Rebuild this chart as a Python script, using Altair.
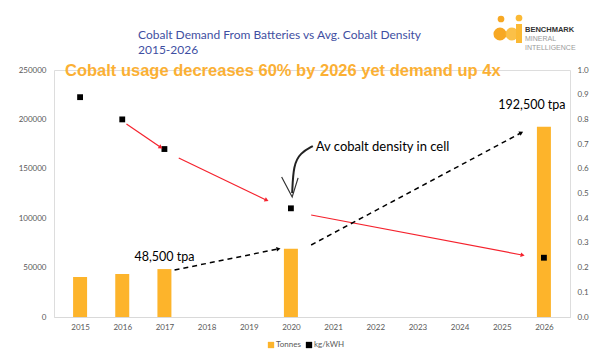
import math
import altair as alt
import pandas as pd

# ---------------- data ----------------
years = [2015, 2016, 2017, 2020, 2026]
tonnes = [40500, 43500, 48500, 69000, 192500]
kg_per_kwh = [0.89, 0.80, 0.68, 0.44, 0.24]

axis_years = list(range(2015, 2027))
left_ticks = [0, 50000, 100000, 150000, 200000, 250000]
right_ticks = [0, 0.1, 0.2, 0.3, 0.4, 0.5, 0.6, 0.7, 0.8, 0.9, 1]

tpa_labels = ["48,500 tpa", "192,500 tpa"]
tpa_years = [2017, 2026]
tpa_values = [48500, 192500]

# red arrows (kg/kWh scale)
red_x1 = [2016.1, 2017.34, 2020.48]
red_y1 = [0.781, 0.644, 0.413]
red_x2 = [2016.9, 2019.41, 2025.48]
red_y2 = [0.688, 0.474, 0.251]

# dashed arrows (tonnes scale)
dash_x1 = [2017.24, 2020.48]
dash_y1 = [47600, 72900]
dash_x2 = [2019.69, 2025.45]
dash_y2 = [68800, 186200]

# hand-drawn curved arrow (kg/kWh scale)
curve_x = [2020.52, 2020.22, 2020.06, 2020.03]
curve_y = [0.692, 0.664, 0.615, 0.502]
head_x = [2019.78, 2020.03, 2020.17]
head_y = [0.567, 0.486, 0.563]

note_text = "Av cobalt density in cell"
note_x = 2020.59
note_y = 0.688

title_lines = ["Cobalt Demand From Batteries vs Avg. Cobalt Density", "2015-2026"]
headline = "Cobalt usage decreases 60% by 2026 yet demand up 4x"
legend_labels = ["Tonnes", "kg/kWH"]

# ---------------- layout / style ----------------
W, H = 516, 247
X_DOMAIN = [2014.5, 2026.5]
T_MAX = 250000
K_MAX = 1
ORANGE = "#FDB42B"
HEAD_ORANGE = "#FBB034"
BLUE = "#3F4FA2"
GREY = "#595959"
RED = "#F5222D"

px_per_year = W / (X_DOMAIN[1] - X_DOMAIN[0])


def arrow_angle(x1, y1, x2, y2, ymax):
    dx = (x2 - x1) * px_per_year
    dy = -(y2 - y1) * H / ymax
    return math.degrees(math.atan2(dx, -dy)) % 360


xs = alt.Scale(domain=X_DOMAIN, nice=False, zero=False)
ys_t = alt.Scale(domain=[0, T_MAX], nice=False)
ys_k = alt.Scale(domain=[0, K_MAX], nice=False)

main = pd.DataFrame({"year": years, "tonnes": tonnes, "kg": kg_per_kwh})

bars = alt.Chart(main).mark_bar(size=14, color=ORANGE).encode(
    x=alt.X("year:Q", scale=xs,
            axis=alt.Axis(values=axis_years, format="d", grid=False, ticks=False,
                          domainColor="#D9D9D9", labelColor=GREY, labelFontSize=8,
                          labelPadding=6, title=None, labelFont="Lato")),
    y=alt.Y("tonnes:Q", scale=ys_t,
            axis=alt.Axis(orient="left", values=left_ticks, format="d", grid=False,
                          ticks=False, domain=False, labelColor=GREY, labelFontSize=8,
                          labelPadding=8, title=None, labelFont="Lato")),
)

points = alt.Chart(main).mark_square(size=34, color="black", opacity=1).encode(
    x=alt.X("year:Q", scale=xs),
    y=alt.Y("kg:Q", scale=ys_k,
            axis=alt.Axis(orient="right", values=right_ticks, grid=False, ticks=False,
                          domain=False, labelColor=GREY, labelFontSize=8,
                          labelPadding=7, title=None, labelFont="Lato")),
)

red_df = pd.DataFrame({"x1": red_x1, "y1": red_y1, "x2": red_x2, "y2": red_y2})
red_df["angle"] = [arrow_angle(a, b, c, d, K_MAX) for a, b, c, d in
                   zip(red_x1, red_y1, red_x2, red_y2)]
red_lines = alt.Chart(red_df).mark_rule(color=RED, strokeWidth=1.2).encode(
    x=alt.X("x1:Q", scale=xs), x2="x2:Q",
    y=alt.Y("y1:Q", scale=ys_k, axis=None), y2="y2:Q",
)
red_heads = alt.Chart(red_df).mark_point(shape="triangle", filled=True, size=22,
                                         color=RED, opacity=1).encode(
    x=alt.X("x2:Q", scale=xs),
    y=alt.Y("y2:Q", scale=ys_k, axis=None),
    angle=alt.Angle("angle:Q", scale=None),
)

dash_df = pd.DataFrame({"x1": dash_x1, "y1": dash_y1, "x2": dash_x2, "y2": dash_y2})
dash_df["angle"] = [arrow_angle(a, b, c, d, T_MAX) for a, b, c, d in
                    zip(dash_x1, dash_y1, dash_x2, dash_y2)]
dash_lines = alt.Chart(dash_df).mark_rule(color="black", strokeWidth=1.5,
                                          strokeDash=[5, 4]).encode(
    x=alt.X("x1:Q", scale=xs), x2="x2:Q",
    y=alt.Y("y1:Q", scale=ys_t, axis=None), y2="y2:Q",
)
dash_heads = alt.Chart(dash_df).mark_point(shape="triangle", filled=True, size=22,
                                           color="black", opacity=1).encode(
    x=alt.X("x2:Q", scale=xs),
    y=alt.Y("y2:Q", scale=ys_t, axis=None),
    angle=alt.Angle("angle:Q", scale=None),
)

curve_df = pd.DataFrame({"x": curve_x, "y": curve_y, "o": range(len(curve_x))})
curve = alt.Chart(curve_df).mark_line(color="#222222", strokeWidth=2,
                                      interpolate="basis").encode(
    x=alt.X("x:Q", scale=xs), y=alt.Y("y:Q", scale=ys_k, axis=None), order="o:Q",
)
head_df = pd.DataFrame({"x": head_x, "y": head_y, "o": range(len(head_x))})
head = alt.Chart(head_df).mark_line(color="#333333", strokeWidth=1.2).encode(
    x=alt.X("x:Q", scale=xs), y=alt.Y("y:Q", scale=ys_k, axis=None), order="o:Q",
)

note = alt.Chart(pd.DataFrame({"x": [note_x], "y": [note_y], "t": [note_text]})).mark_text(
    align="left", baseline="middle", fontSize=13, font="Lato", color="black",
).encode(x=alt.X("x:Q", scale=xs), y=alt.Y("y:Q", scale=ys_k, axis=None), text="t:N")

tpa_df = pd.DataFrame({"x": tpa_years, "y": tpa_values, "t": tpa_labels})
tpa1 = alt.Chart(tpa_df.iloc[[0]]).mark_text(
    align="center", baseline="middle", fontSize=12.5, font="Lato", color="black", dy=-12,
).encode(x=alt.X("x:Q", scale=xs), y=alt.Y("y:Q", scale=ys_t, axis=None), text="t:N")
tpa2 = alt.Chart(tpa_df.iloc[[1]]).mark_text(
    align="center", baseline="middle", fontSize=12.5, font="Lato", color="black", dx=-12, dy=-22,
).encode(x=alt.X("x:Q", scale=xs), y=alt.Y("y:Q", scale=ys_t, axis=None), text="t:N")

one = pd.DataFrame({"k": [0]})


def label(text, x, y, **kw):
    return alt.Chart(one).mark_text(text=text, **kw).encode(x=alt.value(x), y=alt.value(y))


title1 = label(title_lines[0], 84, -35, align="left", baseline="middle", fontSize=12,
               font="Lato", color=BLUE)
title2 = label(title_lines[1], 84, -20, align="left", baseline="middle", fontSize=12,
               font="Lato", color=BLUE)
head_txt = label(headline, 11, 1, align="left", baseline="middle", fontSize=16.5,
                 font="Liberation Sans", fontWeight="bold", color=HEAD_ORANGE)

logo1 = label("BENCHMARK", 471, -40, align="left", baseline="middle", fontSize=7.5,
              font="Liberation Sans", fontWeight="bold", color="#333333")
logo2 = label("MINERAL", 471, -31, align="left", baseline="middle", fontSize=7,
              font="Liberation Sans", color="#9A9A9A")
logo3 = label("INTELLIGENCE", 471, -22, align="left", baseline="middle", fontSize=7,
              font="Liberation Sans", color="#9A9A9A")
logo_a = alt.Chart(one).mark_point(shape="circle", filled=True, size=170, color="#F7A823",
                                   opacity=1).encode(x=alt.value(446), y=alt.value(-36))
logo_b = alt.Chart(one).mark_point(shape="circle", filled=True, size=170, color="#FBB934",
                                   opacity=0.9).encode(x=alt.value(458), y=alt.value(-36))
logo_c = alt.Chart(one).mark_point(shape="circle", filled=True, size=45, color="#F7A823",
                                   opacity=1).encode(x=alt.value(447), y=alt.value(-51))
logo_d = alt.Chart(one).mark_point(shape="circle", filled=True, size=45, color="#FBB934",
                                   opacity=1).encode(x=alt.value(465), y=alt.value(-52))
logo_e = alt.Chart(one).mark_rect(color="#FBB934").encode(
    x=alt.value(462), x2=alt.value(468), y=alt.value(-46), y2=alt.value(-27))

leg_sq1 = alt.Chart(one).mark_square(size=40, color=ORANGE, opacity=1).encode(
    x=alt.value(217), y=alt.value(275))
leg_t1 = label(legend_labels[0], 222, 275, align="left", baseline="middle", fontSize=8,
               font="Lato", color=GREY)
leg_sq2 = alt.Chart(one).mark_square(size=40, color="black", opacity=1).encode(
    x=alt.value(255), y=alt.value(275))
leg_t2 = label(legend_labels[1], 260, 275, align="left", baseline="middle", fontSize=8,
               font="Lato", color=GREY)

chart = alt.layer(
    bars, points, red_lines, red_heads, dash_lines, dash_heads, curve, head, note,
    tpa1, tpa2, title1, title2, head_txt, logo_a, logo_b, logo_c, logo_d, logo_e,
    logo1, logo2, logo3, leg_sq1, leg_t1, leg_sq2, leg_t2,
).resolve_scale(y="independent").properties(
    width=W, height=H,
    autosize=alt.AutoSizeParams(type="none"),
    padding={"left": 46, "top": 62, "right": 22, "bottom": 36},
).configure_view(stroke=None).configure(background="white")

chart.save("out.html", embed_options={"renderer": "svg", "actions": False})
